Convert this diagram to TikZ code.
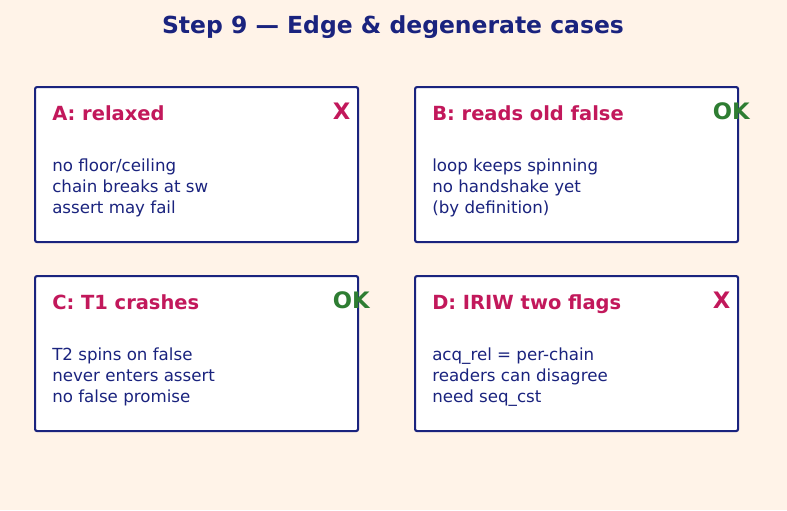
\documentclass[tikz,border=0pt]{standalone}
\usepackage{fontspec}
\setmainfont{DejaVu Sans}

\definecolor{navy}{HTML}{1A237E}
\definecolor{crimson}{HTML}{C2185B}
\definecolor{okgreen}{HTML}{2E7D32}
\definecolor{cream}{HTML}{FFF3E8}

\begin{document}
\begin{tikzpicture}[x=0.75pt, y=-0.75pt,
    casebox/.style={draw=navy, fill=white, line width=1.6pt, rounded corners=1.5pt,
        minimum width=242.25pt, minimum height=116.25pt, inner sep=0pt, anchor=north west},
    heading/.style={text=crimson, font=\fontsize{14.6}{16}\selectfont\bfseries, inner sep=0pt, anchor=base west},
    verdict/.style={font=\fontsize{17}{19}\selectfont\bfseries, inner sep=0pt, anchor=base west},
    bodytext/.style={text=navy, font=\fontsize{12.5}{15.6}\selectfont, align=left, inner sep=0pt, anchor=north west}]

    %% Step 9 edge cases

    \newcommand{\caseBox}[7]{
        \node[casebox] (#1) at (#2,#3) {};
        \node[heading] (#1head) at ([shift={(18,34)}]#1.north west) {#4};
        \node[verdict, text=#5] (#1mark) at ([shift={(298.5,33.5)}]#1.north west) {#6};
        \node[bodytext] (#1body) at ([shift={(18,73)}]#1.north west) {#7};
    }

    % Background
    \fill[cream] (0,0) rectangle (787,510);
    \useasboundingbox (0,0) rectangle (787,510);

    % Title
    \node[text=navy, font=\fontsize{17.6}{20}\selectfont\bfseries, inner sep=0pt, anchor=base] (title)
        at (393,33.5) {Step 9 — Edge \& degenerate cases};

    % Cases
    \caseBox{caseA}{34}{86}{A: relaxed}{crimson}{X}
        {no floor/ceiling\\chain breaks at sw\\assert may fail}
    \caseBox{caseB}{414}{86}{B: reads old false}{okgreen}{OK}
        {loop keeps spinning\\no handshake yet\\(by definition)}
    \caseBox{caseC}{34}{275}{C: T1 crashes}{okgreen}{OK}
        {T2 spins on false\\never enters assert\\no false promise}
    \caseBox{caseD}{414}{275}{D: IRIW two flags}{crimson}{X}
        {acq\_rel = per-chain\\readers can disagree\\need seq\_cst}

\end{tikzpicture}
\end{document}
